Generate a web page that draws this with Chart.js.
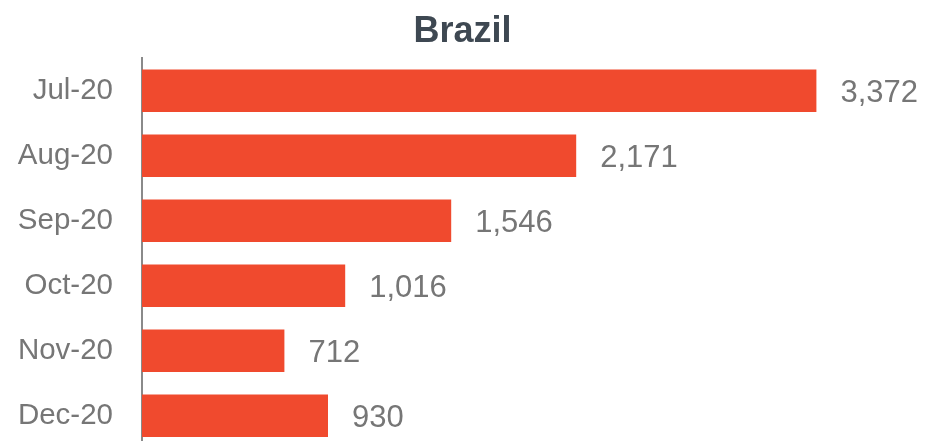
<!DOCTYPE html>
<html>
<head>
<meta charset="utf-8">
<script src="https://cdn.jsdelivr.net/npm/chart.js@4"></script>
<style>
  html, body { margin: 0; padding: 0; background: #ffffff; overflow: hidden; }
  canvas { display: block; }
</style>
</head>
<body>
<canvas id="c" width="925" height="466"></canvas>
<script>
const chartTitle = "Brazil";
const categories = ["Jul-20", "Aug-20", "Sep-20", "Oct-20", "Nov-20", "Dec-20"];
const values = [3372, 2171, 1546, 1016, 712, 930];

const barColor = "#f04a2e";
const textGray = "#767676";
const titleColor = "#3e4852";

const valueLabels = {
  id: "valueLabels",
  afterDatasetsDraw(chart) {
    const ctx = chart.ctx;
    const meta = chart.getDatasetMeta(0);
    ctx.save();
    ctx.font = "31px 'Liberation Sans', Arial, sans-serif";
    ctx.fillStyle = textGray;
    ctx.textAlign = "left";
    ctx.textBaseline = "alphabetic";
    meta.data.forEach((bar, i) => {
      const txt = values[i].toLocaleString("en-US");
      ctx.fillText(txt, bar.x + 24, bar.y + 11.1);
    });
    ctx.restore();
  }
};

new Chart(document.getElementById("c"), {
  type: "bar",
  data: {
    labels: categories,
    datasets: [{
      data: values,
      backgroundColor: barColor,
      borderWidth: 0,
      categoryPercentage: 1,
      barPercentage: 0.655
    }]
  },
  options: {
    indexAxis: "y",
    responsive: false,
    maintainAspectRatio: false,
    animation: false,
    devicePixelRatio: 1,
    layout: { padding: { top: 10, left: 0, right: 0, bottom: 0 } },
    plugins: {
      legend: { display: false },
      tooltip: { enabled: false },
      title: {
        display: true,
        text: chartTitle,
        color: titleColor,
        font: { family: "'Liberation Sans', Arial, sans-serif", size: 36, weight: "bold", lineHeight: 1.2 },
        padding: { top: 0, bottom: 5 }
      }
    },
    scales: {
      x: {
        display: false,
        min: 0,
        max: 3915
      },
      y: {
        afterFit(scale) { scale.width = 142; },
        grid: { display: true, drawOnChartArea: false, drawTicks: true, tickLength: 29, color: "rgba(0,0,0,0)" },
        border: { display: true, color: "#8a8a8a", width: 2 },
        ticks: {
          color: textGray,
          padding: 0,
          font: { family: "'Liberation Sans', Arial, sans-serif", size: 29.5 }
        }
      }
    }
  },
  plugins: [valueLabels]
});
</script>
</body>
</html>
